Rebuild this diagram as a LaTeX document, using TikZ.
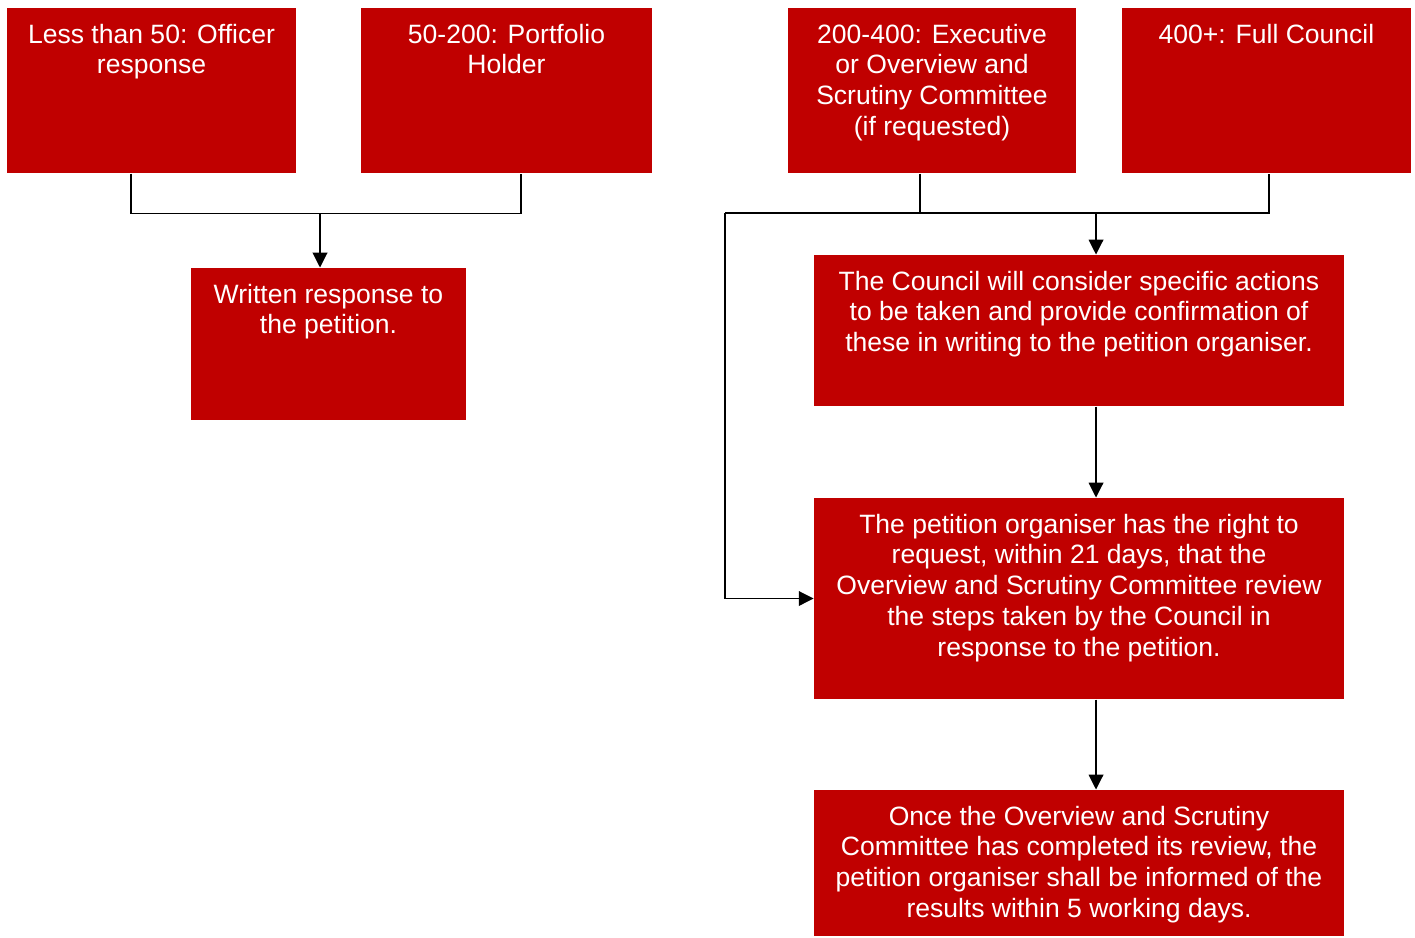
\documentclass[tikz,border=0pt]{standalone}
\usepackage{fontspec}
\setmainfont{Liberation Sans}
\usetikzlibrary{arrows.meta}
\definecolor{boxred}{RGB}{192,0,0}
\newcommand{\boxtxt}[3]{\parbox[t][#2][t]{#1}{\centering\rule{0pt}{0.7cm}#3}}

\begin{document}
\begin{tikzpicture}[x=0.02cm,y=-0.02cm,
	red_box/.style={rectangle,fill=boxred,text=white,inner sep=0pt,font=\fontsize{15.1}{17.6}\selectfont},
	line_arrow/.style={-{Triangle[width=8.4pt,length=8.4pt]}},
	every path/.style={line width=0.6pt}]
				\useasboundingbox (0,0) rectangle (1415,937);

				% top row: number of signatures
				\node[red_box] (1) at (151.5,90.5){\boxtxt{5.78cm}{3.3cm}{Less than 50: Officer\\response}};
				\node[red_box] (2) at (506.5,90.5){\boxtxt{5.82cm}{3.3cm}{50-200: Portfolio\\Holder}};
				\node[red_box] (3) at (932,90.5){\boxtxt{5.76cm}{3.3cm}{200-400: Executive\\or Overview and\\Scrutiny Committee\\(if requested)}};
				\node[red_box] (4) at (1266.5,90.5){\boxtxt{5.78cm}{3.3cm}{400+: Full Council}};

				% outcomes
				\node[red_box] (5) at (328.5,344){\boxtxt{5.5cm}{3.04cm}{Written response to\\the petition.}};
				\node[red_box] (6) at (1079,330.5){\boxtxt{10.6cm}{3.02cm}{The Council will consider specific actions\\to be taken and provide confirmation of\\these in writing to the petition organiser.}};
				\node[red_box] (7) at (1079,598.5){\boxtxt{10.6cm}{4.02cm}{The petition organiser has the right to\\request, within 21 days, that the\\Overview and Scrutiny Committee review\\the steps taken by the Council in\\response to the petition.}};
				\node[red_box] (8) at (1079,863){\boxtxt{10.6cm}{2.92cm}{Once the Overview and Scrutiny\\Committee has completed its review, the\\petition organiser shall be informed of the\\results within 5 working days.}};

				\coordinate (j1) at (320,213);
				\coordinate (j2) at (725,213);
				\coordinate (j3) at (1096,213);

				\path[draw]
				([xshift=-0.41cm]1.south) -- ++(0,40) -| ([xshift=0.29cm]2.south)
				([xshift=-0.24cm]3.south) -- ++(0,40)
				(j2) -| ([xshift=0.05cm]4.south)
				;
				\path[draw,line_arrow] (j1) -- (j1 |- 5.north);
				\path[draw,line_arrow] (j3) -- (j3 |- 6.north);
				\path[draw,line_arrow] (j2) |- (7.west);
				\path[draw,line_arrow] ([xshift=0.34cm]6.south) -- ([xshift=0.34cm]7.north);
				\path[draw,line_arrow] ([xshift=0.34cm]7.south) -- ([xshift=0.34cm]8.north);
				\end{tikzpicture}
\end{document}
